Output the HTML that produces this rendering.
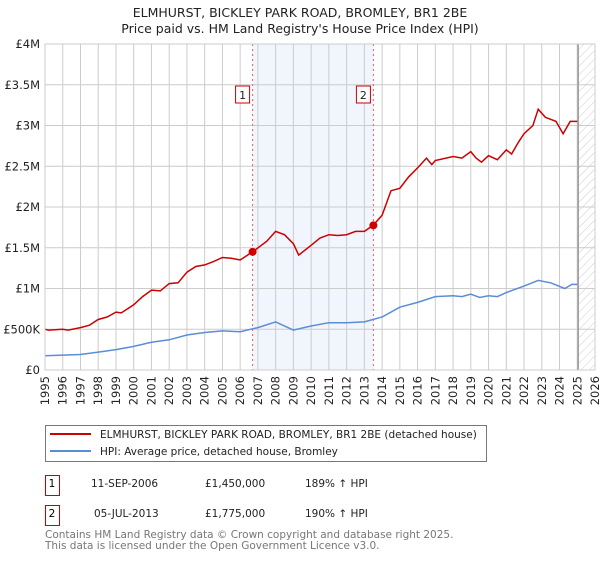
<!DOCTYPE html>
<html><head><meta charset="utf-8"><style>
body{margin:0;background:#fff;font-family:"Liberation Sans","DejaVu Sans",sans-serif;}
svg text{font-family:"DejaVu Sans","Liberation Sans",sans-serif;}
</style></head><body>
<svg id="c" width="600" height="560" xmlns="http://www.w3.org/2000/svg">
<defs><pattern id="hatch" width="6" height="6" patternUnits="userSpaceOnUse" patternTransform="rotate(45)"><line x1="0" y1="0" x2="0" y2="6" stroke="#ccc" stroke-width="1"/></pattern></defs>
<text x="300" y="17" text-anchor="middle" font-size="12.5" fill="#222">ELMHURST, BICKLEY PARK ROAD, BROMLEY, BR1 2BE</text>
<text x="300" y="33" text-anchor="middle" font-size="12.5" fill="#222">Price paid vs. HM Land Registry's House Price Index (HPI)</text>
<g id="plot"></g>
<rect x="45.5" y="425.5" width="441" height="36" fill="#fff" stroke="#777"/>
<line x1="50" y1="434" x2="91" y2="434" stroke="#cc0000" stroke-width="2"/>
<text x="100" y="438" font-size="10.5" fill="#222">ELMHURST, BICKLEY PARK ROAD, BROMLEY, BR1 2BE (detached house)</text>
<line x1="50" y1="451" x2="91" y2="451" stroke="#5b8dd6" stroke-width="2"/>
<text x="100" y="455" font-size="10.5" fill="#222">HPI: Average price, detached house, Bromley</text>
<rect x="45.5" y="475.5" width="14" height="20" fill="#fff" stroke="#cc0000"/>
<text x="52" y="487" text-anchor="middle" font-size="10.5">1</text>
<text x="91" y="487" font-size="10.5" fill="#222">11-SEP-2006</text>
<text x="205" y="487" font-size="10.5" fill="#222">£1,450,000</text>
<text x="305" y="487" font-size="10.5" fill="#222">189% ↑ HPI</text>
<rect x="45.5" y="505.5" width="14" height="20" fill="#fff" stroke="#cc0000"/>
<text x="52" y="517" text-anchor="middle" font-size="10.5">2</text>
<text x="94" y="517" font-size="10.5" fill="#222">05-JUL-2013</text>
<text x="205" y="517" font-size="10.5" fill="#222">£1,775,000</text>
<text x="305" y="517" font-size="10.5" fill="#222">190% ↑ HPI</text>
<text x="45" y="538" font-size="10.5" fill="#777">Contains HM Land Registry data © Crown copyright and database right 2025.</text>
<text x="45" y="549" font-size="10.5" fill="#777">This data is licensed under the Open Government Licence v3.0.</text>
</svg>
<script>
const yTicks=[0,500000,1000000,1500000,2000000,2500000,3000000,3500000,4000000];
const yTickLabels=["£0","£500K","£1M","£1.5M","£2M","£2.5M","£3M","£3.5M","£4M"];
const years=[1995,1996,1997,1998,1999,2000,2001,2002,2003,2004,2005,2006,2007,2008,2009,2010,2011,2012,2013,2014,2015,2016,2017,2018,2019,2020,2021,2022,2023,2024,2025,2026];
const redT=[1995,1995.2,1996,1996.3,1997,1997.5,1998,1998.5,1999,1999.3,2000,2000.5,2001,2001.5,2002,2002.5,2003,2003.5,2004,2004.5,2005,2005.5,2006,2006.7,2007.5,2008,2008.5,2009,2009.3,2010,2010.5,2011,2011.5,2012,2012.5,2013,2013.5,2014,2014.5,2015,2015.5,2016,2016.5,2016.8,2017,2018,2018.5,2019,2019.3,2019.6,2020,2020.5,2021,2021.3,2021.7,2022,2022.5,2022.8,2023.2,2023.8,2024.2,2024.6,2025];
const redV=[0.5,0.49,0.5,0.49,0.52,0.55,0.62,0.65,0.71,0.7,0.8,0.9,0.98,0.97,1.06,1.07,1.2,1.27,1.29,1.33,1.38,1.37,1.35,1.45,1.58,1.7,1.66,1.55,1.41,1.53,1.62,1.66,1.65,1.66,1.7,1.7,1.775,1.9,2.2,2.23,2.37,2.48,2.6,2.52,2.57,2.62,2.6,2.68,2.6,2.55,2.63,2.58,2.7,2.65,2.8,2.9,3.0,3.2,3.1,3.05,2.9,3.05,3.05];
const blueT=[1995,1997,1998,1999,2000,2001,2002,2003,2004,2005,2006,2007,2008,2009,2010,2011,2012,2013,2014,2015,2016,2017,2018,2018.5,2019,2019.5,2020,2020.5,2021,2022,2022.8,2023.5,2024.3,2024.7,2025];
const blueV=[0.175,0.19,0.22,0.25,0.29,0.34,0.37,0.43,0.46,0.48,0.47,0.52,0.59,0.49,0.54,0.58,0.58,0.59,0.65,0.77,0.83,0.9,0.91,0.9,0.93,0.89,0.91,0.9,0.95,1.03,1.1,1.07,1.0,1.05,1.05];
const saleT=[2006.7,2013.51];
const saleV=[1.45,1.775];
const saleLabels=["1","2"];
const X=t=>45+(t-1995)*550/31;
const Y=v=>370-v*326/4000000;
const NS="http://www.w3.org/2000/svg";
const g=document.getElementById('plot');
function mk(tag,at){const e=document.createElementNS(NS,tag);for(const k in at)e.setAttribute(k,at[k]);g.appendChild(e);return e;}
let e=mk('rect',{x:X(saleT[0]),y:44,width:X(saleT[1])-X(saleT[0]),height:326,fill:'#eef3fc',opacity:0.8});


e=mk('rect',{x:X(2025.05),y:44,width:595-X(2025.05),height:326,fill:'url(#hatch)'});


years.forEach(y=>{const l=mk('line',{x1:X(y),x2:X(y),y1:44,y2:370,stroke:'#ccc'});


const t=mk('text',{x:0,y:0,'font-size':11.5,fill:'#222','text-anchor':'end',transform:`translate(${X(y)+4},376) rotate(-90)`});t.textContent=y;

});
yTicks.forEach((v,i)=>{const l=mk('line',{x1:45,x2:595,y1:Y(v),y2:Y(v),stroke:'#ccc'});


const t=mk('text',{x:40,y:Y(v)+4,'font-size':11.5,fill:'#222','text-anchor':'end'});t.textContent=yTickLabels[i];

});
e=mk('line',{x1:X(2025.05),x2:X(2025.05),y1:44,y2:370,stroke:'#999','stroke-width':1.5});


saleT.forEach((t,i)=>{const l=mk('line',{x1:X(t),x2:X(t),y1:44,y2:370,stroke:'#e06060','stroke-dasharray':'2,3'});


const r=mk('rect',{x:X(t)-17,y:86,width:14,height:17,fill:'#fff',stroke:'#cc0000'});


const tx=mk('text',{x:X(t)-10,y:99,'font-size':11,'text-anchor':'middle',fill:'#222'});tx.textContent=saleLabels[i];

});
const pts=(T,V)=>T.map((t,i)=>X(t).toFixed(1)+','+Y(V[i]*1e6).toFixed(1)).join(' ');
e=mk('polyline',{points:pts(blueT,blueV),fill:'none',stroke:'#5b8dd6','stroke-width':1.5});


e=mk('polyline',{points:pts(redT,redV),fill:'none',stroke:'#cc0000','stroke-width':1.5});


saleT.forEach((t,i)=>{const c=mk('circle',{cx:X(t),cy:Y(saleV[i]*1e6),r:4,fill:'#cc0000'});

});
e=mk('rect',{x:45,y:44,width:550,height:326,fill:'none',stroke:'#ccc'});


</script>
</body></html>
